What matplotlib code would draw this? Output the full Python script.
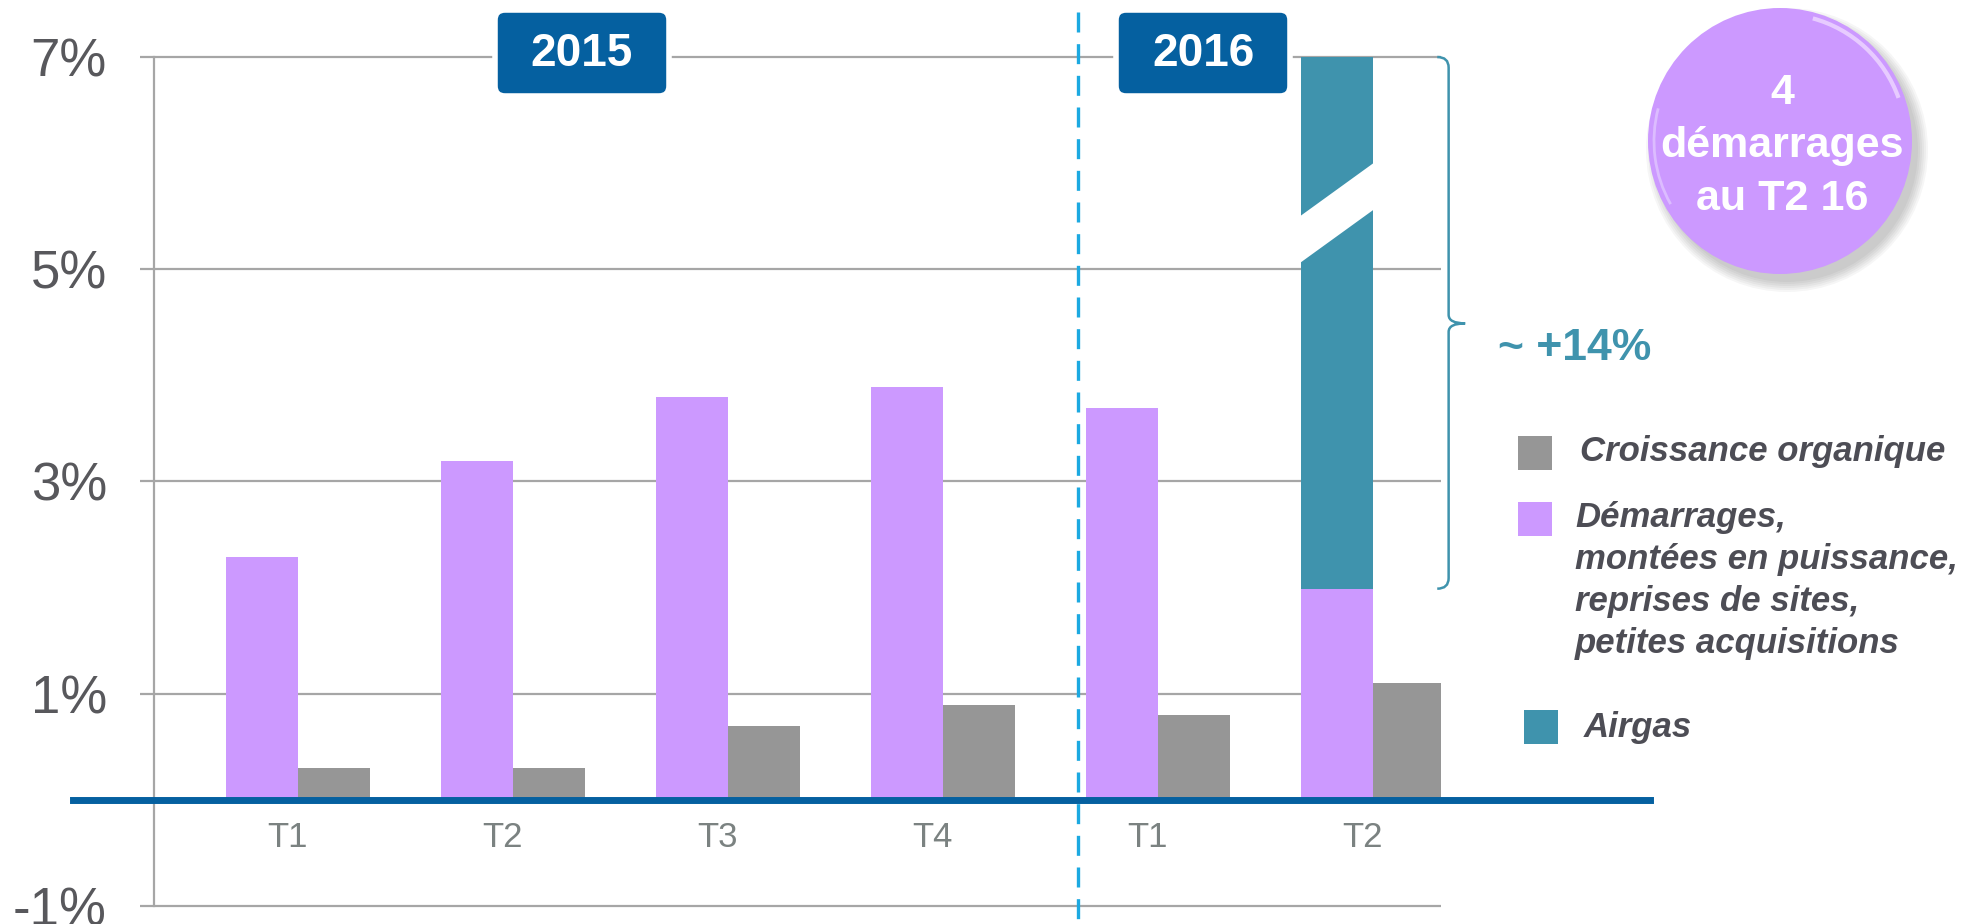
import numpy as np
import matplotlib
matplotlib.use('Agg')
import matplotlib.pyplot as plt
from matplotlib.patches import Rectangle, Ellipse, FancyBboxPatch, Polygon, PathPatch, Arc
from matplotlib.path import Path

plt.rcParams['font.family'] = ['Liberation Sans', 'DejaVu Sans']

# data (in %)
quarters = ['T1', 'T2', 'T3', 'T4', 'T1', 'T2']
demarrages = [2.29, 3.19, 3.80, 3.89, 3.69, 1.99]
organique = [0.30, 0.30, 0.70, 0.89, 0.80, 1.10]
airgas = [0, 0, 0, 0, 0, 5.01]
years = ['2015', '2016']
yticks = [-1, 1, 3, 5, 7]
ylabels = ['-1%', '1%', '3%', '5%', '7%']
legend_labels = ['Croissance organique',
                 'Démarrages,\nmontées en puissance,\nreprises de sites,\npetites acquisitions',
                 'Airgas']
total_label = '~ +14%'
bubble_text = '4\ndémarrages\nau T2 16'

PURPLE = '#cc99ff'
GREY = '#969696'
TEAL = '#3f93ad'
BLUE = '#0560a0'
GRID = '#a6a6a6'
DARK = '#4d4d55'

fig = plt.figure(figsize=(19.82, 9.24), dpi=100)
ax = fig.add_axes([0.0777, 0.0195, 0.6494, 0.9188])

x = np.arange(len(quarters))
w = 0.335
ax.bar(x - w / 2, demarrages, w, color=PURPLE, linewidth=0, zorder=2)
ax.bar(x + w / 2, organique, w, color=GREY, linewidth=0, zorder=2)
ax.bar(x - w / 2, airgas, w, bottom=demarrages, color=TEAL, linewidth=0, zorder=2)

ax.set_xlim(-0.6706, 5.318)
ax.set_ylim(-1, 7)
ax.hlines(yticks, -0.735, 5.318, color=GRID, lw=1.6, zorder=1, clip_on=False)
for s in ['top', 'right', 'bottom']:
    ax.spines[s].set_visible(False)
ax.spines['left'].set_color(GRID)
ax.spines['left'].set_linewidth(1.6)
ax.set_xticks([])
ax.set_yticks(yticks)
ax.set_yticklabels(ylabels, fontsize=38, color='#58585c')
ax.tick_params(axis='y', length=0, pad=34)

for xi, q in zip(x, quarters):
    ax.text(xi - 0.05, -0.35, q, ha='center', va='center', fontsize=25, color='#7b8281')

# zero line
ax.axhline(0, xmin=-0.063, xmax=1.162, color=BLUE, lw=5, zorder=4, clip_on=False)

# axis break on the Airgas bar
i = len(quarters) - 1
x0, x1 = x[i] - w - 0.01, x[i] + 0.01
ax.add_patch(Polygon([(x0, 5.05), (x1, 5.57), (x1, 6.01), (x0, 5.49)],
                     closed=True, fc='white', ec='none', zorder=3))

# brace over the Airgas part
top = demarrages[i] + airgas[i]
bot = demarrages[i]
mid = 4.49
xe, xv, xt = 5.30, 5.353, 5.43
verts = [(xe, top), (xv, top), (xv, top - 0.1),
         (xv, mid + 0.08), (xv, mid), (xt, mid),
         (xv, mid), (xv, mid - 0.08),
         (xv, bot + 0.1), (xv, bot), (xe, bot)]
codes = [Path.MOVETO, Path.CURVE3, Path.CURVE3,
         Path.LINETO, Path.CURVE3, Path.CURVE3,
         Path.CURVE3, Path.CURVE3,
         Path.LINETO, Path.CURVE3, Path.CURVE3]
ax.add_patch(PathPatch(Path(verts, codes), fc='none', ec=TEAL, lw=1.8, clip_on=False))

# overlay in pixel coordinates for the decorations
ov = fig.add_axes([0, 0, 1, 1], zorder=5)
ov.set_xlim(0, 1982)
ov.set_ylim(924, 0)
ov.axis('off')

# dashed separator between years
ov.plot([1078, 1078], [12, 924], color='#1ca9e1', lw=2.4, ls=(0, (6, 3.5)))

# year boxes
for (bx, label) in zip([495, 1116], years):
    ov.add_patch(FancyBboxPatch((bx, 10), 174, 86, boxstyle='round,pad=0,rounding_size=10',
                                fc=BLUE, ec='white', lw=4))
    ov.text(bx + 87, 54, label, ha='center', va='center', fontsize=33,
            fontweight='bold', color='white')

ov.text(1498, 348, total_label, ha='left', va='center', fontsize=32,
        fontweight='bold', color=TEAL)

# bubble
for k in range(6):
    ov.add_patch(Ellipse((1787, 150), 262 + 4 * k, 264 + 4 * k, fc='black',
                         alpha=0.035, ec='none'))
ov.add_patch(Ellipse((1780, 141), 264, 266, fc=PURPLE, ec='none'))
ov.add_patch(Arc((1780, 141), 252, 254, theta1=-75, theta2=-20, color='#eed8ff', lw=3, alpha=0.8))
ov.add_patch(Arc((1780, 141), 252, 254, theta1=150, theta2=195, color='#dcbcff', lw=2))
for k, line in enumerate(bubble_text.split('\n')):
    ov.text(1782, 93 + 53 * k, line, ha='center', va='center', fontsize=31,
            fontweight='bold', color='white')

# legend
leg_colors = [GREY, PURPLE, TEAL]
leg_boxes = [(1518, 436), (1518, 502), (1524, 710)]
leg_text = [(1580, 452), (1575, 518), (1584, 727)]
for col, (bx, by), (tx, ty), lab in zip(leg_colors, leg_boxes, leg_text, legend_labels):
    ov.add_patch(Rectangle((bx, by), 34, 34, fc=col, ec='none'))
    for k, line in enumerate(lab.split('\n')):
        ov.text(tx, ty + 42 * k, line, ha='left', va='center', fontsize=25,
                fontweight='bold', fontstyle='italic', color=DARK)

fig.savefig('out.png', dpi=100)
